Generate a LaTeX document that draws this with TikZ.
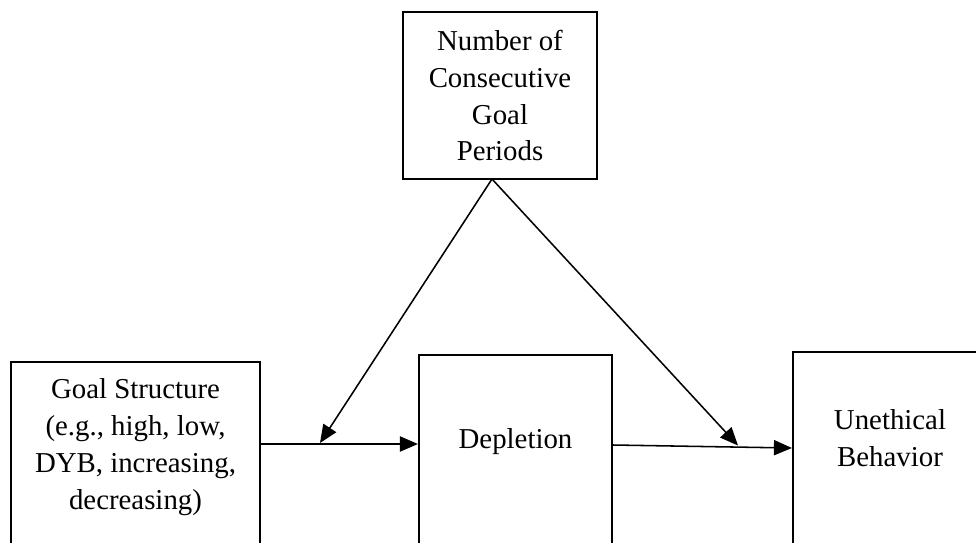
\documentclass[tikz,border=0pt]{standalone}
\usepackage{fontspec}
\setmainfont{Liberation Serif}
\usepackage{tikz}
\usetikzlibrary{arrows.meta,positioning}
\tikzset{
  boxnode/.style={
    rectangle, draw=black, line width=1.5pt, fill=white
  },
  boxtext/.style={
    align=center, inner sep=0pt,
    font=\fontsize{20.5pt}{26.3pt}\selectfont
  },
  linkarrow/.style={-{Triangle[length=0.45cm,width=0.38cm]}, line width=1.1pt, color=black},
}
\begin{document}
\begin{tikzpicture}[x=0.025cm, y=-0.025cm]
  \useasboundingbox (0,0) rectangle (976,542);
  \clip (0,0) rectangle (976,542);

  \node[boxnode, boxtext, minimum width=4.85cm, minimum height=4.175cm] (periods) at (500,95.5) {Number of\\Consecutive\\Goal\\Periods};
  \node[boxnode, minimum width=6.225cm, minimum height=6cm] (goal) at (135.5,482) {};
  \node[boxnode, minimum width=4.825cm, minimum height=6.125cm] (dep) at (515.5,477.5) {};
  \node[boxnode, minimum width=5.5cm, minimum height=6.25cm] (uneth) at (903,477) {};

  \node[boxtext] (goaltext) at (135.5,447.5) {Goal Structure\\(e.g., high, low,\\DYB, increasing,\\decreasing)};
  \node[boxtext] (deptext) at (515.5,442) {Depletion};
  \node[boxtext] (unethtext) at (890,438.5) {Unethical\\Behavior};

  \coordinate (top) at (492,179);
  \coordinate (m1) at (320,443);
  \coordinate (m2) at (738,445.5);

  \draw[linkarrow] (goal.east |- 0,444) -- (dep.west |- 0,444);
  \draw[linkarrow] (dep.east |- 0,445) -- (uneth.west |- 0,448);
  \draw[linkarrow] (top) -- (m1);
  \draw[linkarrow] (top) -- (m2);
\end{tikzpicture}
\end{document}
